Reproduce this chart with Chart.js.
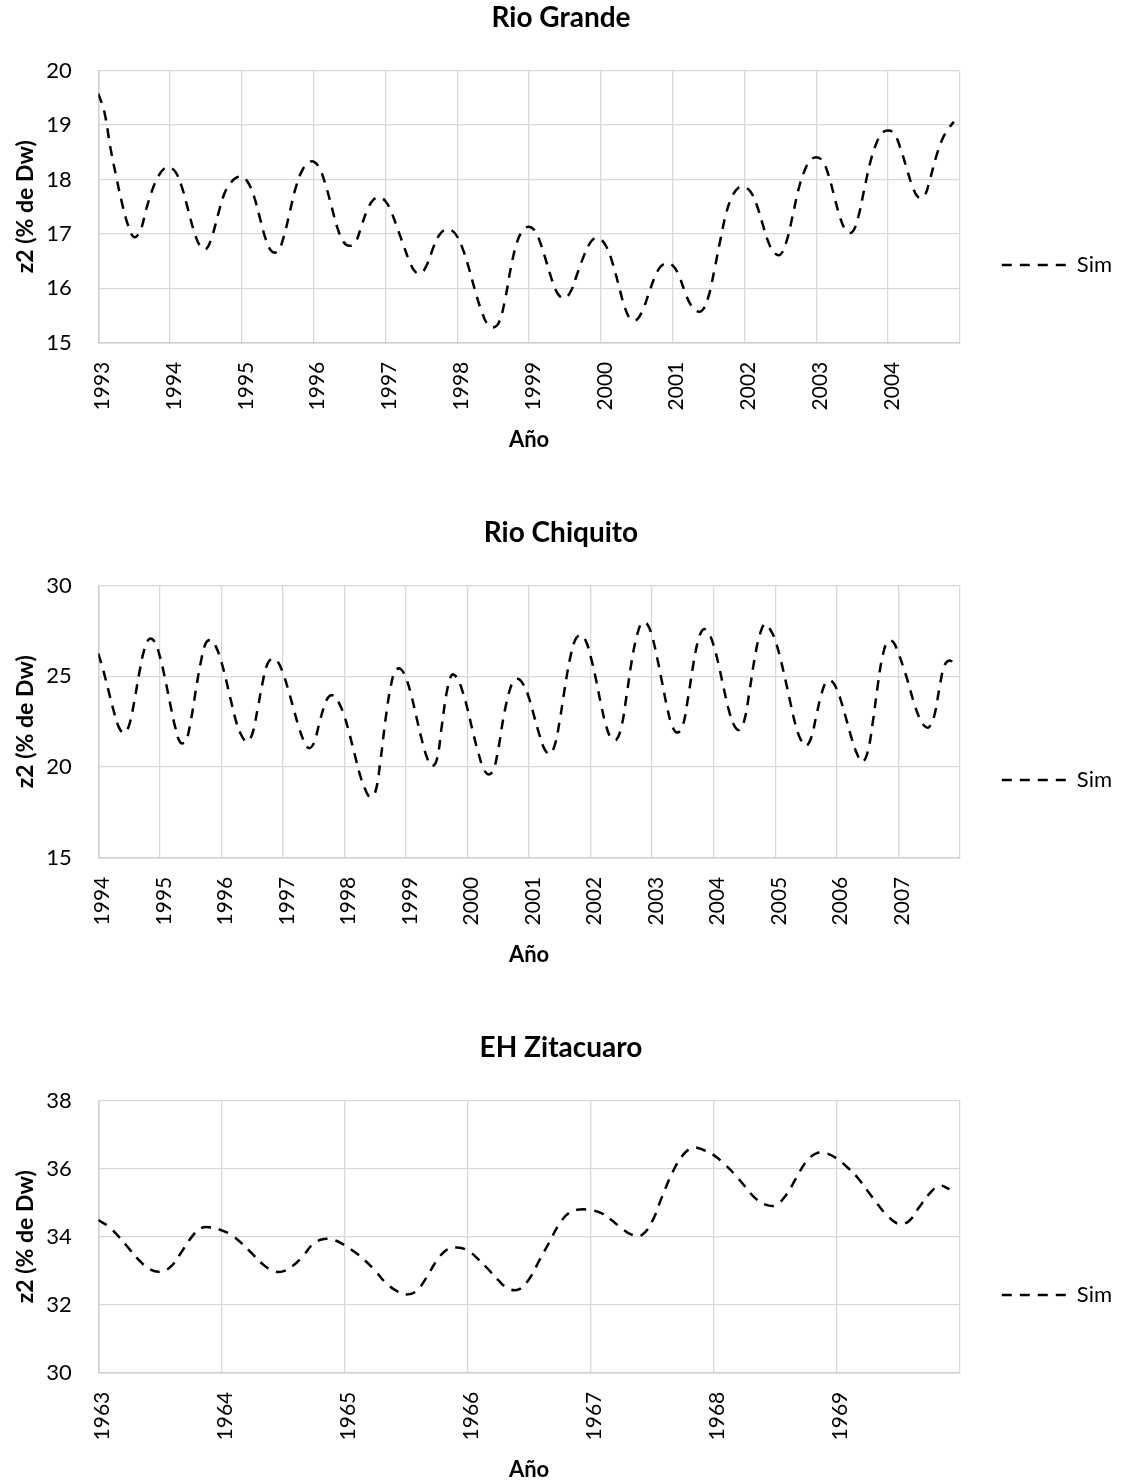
<!DOCTYPE html>
<html>
<head>
<meta charset="utf-8">
<title>z2 (% de Dw)</title>
<script src="https://cdn.jsdelivr.net/npm/chart.js@4.4.1/dist/chart.umd.min.js"></script>
<style>
	html, body { margin: 0; padding: 0; background: #fff; }
	#page { position: relative; width: 1122px; height: 1483px; overflow: hidden; }
	#page canvas { position: absolute; left: 0; }
</style>
</head>
<body>
<div id="page">
	<canvas id="rioGrande" width="1122" height="530" style="top:0"></canvas>
	<canvas id="rioChiquito" width="1122" height="530" style="top:515px"></canvas>
	<canvas id="zitacuaro" width="1122" height="530" style="top:1030px"></canvas>
</div>
<script>
// monthly values, the first one is January of the first year
const rioGrandeYears = [1993, 1994, 1995, 1996, 1997, 1998, 1999, 2000, 2001, 2002, 2003, 2004];
const rioGrandeYTicks = [15, 16, 17, 18, 19, 20];
const rioGrandeSim = [
	19.58, 19.25, 18.6, 18.05, 17.55, 17.15, 16.94, 17.05, 17.45, 17.8, 18.05, 18.2,
	18.22, 18.12, 17.85, 17.45, 17.05, 16.78, 16.72, 16.95, 17.35, 17.72, 17.92, 18.03,
	18.05, 17.95, 17.7, 17.3, 16.9, 16.68, 16.68, 16.95, 17.4, 17.85, 18.15, 18.3,
	18.33, 18.2, 17.9, 17.5, 17.1, 16.85, 16.78, 16.85, 17.15, 17.45, 17.63, 17.67,
	17.6, 17.4, 17.1, 16.8, 16.5, 16.3, 16.28, 16.45, 16.75, 16.98, 17.08, 17.07,
	16.95, 16.7, 16.35, 15.95, 15.6, 15.35, 15.28, 15.38, 15.8, 16.4, 16.85, 17.07,
	17.13, 17.05, 16.8, 16.45, 16.1, 15.87, 15.82, 15.95, 16.25, 16.55, 16.8, 16.92,
	16.9, 16.75, 16.45, 16.05, 15.65, 15.43, 15.42, 15.6, 15.9, 16.2, 16.4, 16.46,
	16.42, 16.25, 15.95, 15.7, 15.58, 15.6, 15.85, 16.35, 16.9, 17.4, 17.7, 17.85,
	17.86, 17.78, 17.55, 17.2, 16.85, 16.65, 16.62, 16.85, 17.3, 17.8, 18.15, 18.35,
	18.41, 18.35, 18.1, 17.7, 17.3, 17.06, 17.03, 17.3, 17.8, 18.3, 18.65, 18.85,
	18.9, 18.85, 18.6, 18.25, 17.9, 17.68, 17.68, 18.0, 18.4, 18.72, 18.92, 19.06
];

const rioChiquitoYears = [1994, 1995, 1996, 1997, 1998, 1999, 2000, 2001, 2002, 2003, 2004, 2005, 2006, 2007];
const rioChiquitoYTicks = [15, 20, 25, 30];
const rioChiquitoSim = [
	26.26, 25.3, 24.2, 23.1, 22.2, 21.88, 22.3, 23.6, 25.2, 26.5, 27.08, 26.9,
	26.1, 24.9, 23.5, 22.2, 21.35, 21.4, 22.5, 24.2, 25.8, 26.85, 27.0, 26.6,
	25.8, 24.7, 23.5, 22.4, 21.7, 21.4, 21.8, 23.1, 24.6, 25.7, 25.98, 25.8,
	25.2, 24.3, 23.3, 22.3, 21.5, 21.05, 21.3, 22.3, 23.3, 23.9, 23.92, 23.5,
	22.8, 21.8, 20.7, 19.6, 18.8, 18.35, 18.6, 20.3, 22.6, 24.4, 25.35, 25.4,
	24.9, 24.0, 22.8, 21.6, 20.6, 20.05, 20.4, 22.3, 24.2, 25.1, 24.9, 24.2,
	23.2, 22.0, 20.9, 20.0, 19.6, 19.8, 21.0, 22.7, 24.0, 24.75, 24.85, 24.5,
	23.8, 22.8, 21.8, 21.0, 20.72, 21.2, 22.6, 24.4, 26.0, 27.0, 27.28, 27.0,
	26.1, 24.9, 23.5, 22.3, 21.6, 21.5, 22.2, 23.9, 25.8, 27.2, 27.95, 27.9,
	27.2, 26.0, 24.6, 23.2, 22.2, 21.9, 22.3, 23.8, 25.6, 27.0, 27.6, 27.4,
	26.7, 25.6, 24.3, 23.1, 22.3, 22.05, 22.6, 24.2, 26.0, 27.3, 27.88, 27.6,
	27.0, 26.0, 24.8, 23.5, 22.3, 21.5, 21.17, 21.6, 22.8, 24.0, 24.7, 24.75,
	24.3, 23.5, 22.5, 21.5, 20.7, 20.28, 20.8, 22.4, 24.5, 26.2, 26.95, 26.9,
	26.3, 25.5, 24.6, 23.6, 22.8, 22.3, 22.2, 22.8, 24.3, 25.6, 25.88, 25.7
];

const zitacuaroYears = [1963, 1964, 1965, 1966, 1967, 1968, 1969];
const zitacuaroYTicks = [30, 32, 34, 36, 38];
const zitacuaroSim = [
	34.49, 34.3, 34.0, 33.65, 33.3, 33.05, 32.97, 33.1, 33.5, 33.95, 34.25, 34.27,
	34.19, 34.05, 33.8, 33.5, 33.2, 33.0, 32.98, 33.15, 33.45, 33.8, 33.93, 33.9,
	33.75, 33.55, 33.3, 33.0, 32.65, 32.42, 32.3, 32.4, 32.8, 33.3, 33.62, 33.68,
	33.6, 33.35, 33.05, 32.72, 32.47, 32.45, 32.75, 33.3, 33.85, 34.4, 34.72, 34.8,
	34.78, 34.7, 34.5, 34.25, 34.06, 34.05, 34.45, 35.2, 35.9, 36.4, 36.62, 36.55,
	36.4, 36.15, 35.85, 35.5, 35.15, 34.95, 34.92, 35.2, 35.7, 36.2, 36.45, 36.45,
	36.3, 36.05, 35.75, 35.35, 34.95, 34.6, 34.38, 34.45, 34.85, 35.25, 35.5, 35.4
];

const GRID = "#d9d9d9";

function monthly(years, values) {
	return values.map((v, i) => ({ x: years[0] + i / 12, y: v }));
}

// the legend uses point options by default, put the dashed line back
function dashedLegend(chart) {
	return Chart.defaults.plugins.legend.labels.generateLabels(chart).map(item => {
		const ds = chart.data.datasets[item.datasetIndex];
		item.lineDash = ds.borderDash;
		item.lineWidth = ds.borderWidth;
		item.strokeStyle = ds.borderColor;
		return item;
	});
}

function makeChart(id, title, years, values, yTicks) {
	const endYear = years[years.length - 1] + 1;

	return new Chart(document.getElementById(id), {
		type: "line",
		data: {
			datasets: [{
				label: "Sim",
				data: monthly(years, values),
				borderColor: "#000",
				borderWidth: 2.5,
				borderDash: [10, 8],
				tension: 0.4,
				pointRadius: 0,
				pointStyle: "line",
				fill: false
			}]
		},
		options: {
			responsive: false,
			animation: false,
			layout: { padding: 0 },
			plugins: {
				title: {
					display: true,
					text: title,
					color: "#000",
					font: { size: 28, weight: "bold" },
					padding: { top: 1.2, bottom: 35.9 }
				},
				legend: {
					position: "right",
					labels: {
						usePointStyle: true,
						pointStyleWidth: 64,
						padding: 42,
						color: "#000",
						font: { size: 22 },
						generateLabels: dashedLegend
					}
				},
				tooltip: { enabled: false }
			},
			scales: {
				x: {
					type: "linear",
					min: years[0],
					max: endYear,
					afterFit: (scale) => { scale.height = 187.3; },
					grid: { color: GRID, lineWidth: 1.3, drawTicks: false },
					border: { color: "#cfcfcf", width: 1.5 },
					ticks: {
						stepSize: 1,
						autoSkip: false,
						minRotation: 90,
						maxRotation: 90,
						padding: 19,
						labelOffset: 4,
						color: "#000",
						font: { size: 21 },
						callback: (v) => years.includes(v) ? String(v) : ""
					},
					title: {
						display: true,
						text: "Año",
						color: "#000",
						font: { size: 22, weight: "bold" },
						padding: { top: 16, bottom: 77 }
					}
				},
				y: {
					min: yTicks[0],
					max: yTicks[yTicks.length - 1],
					afterFit: (scale) => { scale.width = 98.3; },
					grid: { color: GRID, lineWidth: 1.3, drawTicks: false },
					border: { color: "#cfcfcf", width: 1.5 },
					ticks: {
						stepSize: yTicks[1] - yTicks[0],
						padding: 26.6,
						color: "#000",
						font: { size: 22 }
					},
					title: {
						display: true,
						text: "z2 (% de Dw)",
						color: "#000",
						font: { size: 23, weight: "bold" },
						padding: { top: 12.2, bottom: 8 }
					}
				}
			}
		}
	});
}

function draw() {
	Chart.defaults.font.family = "Lato, 'Open Sans', sans-serif";
	makeChart("rioGrande", "Rio Grande", rioGrandeYears, rioGrandeSim, rioGrandeYTicks);
	makeChart("rioChiquito", "Rio Chiquito", rioChiquitoYears, rioChiquitoSim, rioChiquitoYTicks);
	makeChart("zitacuaro", "EH Zitacuaro", zitacuaroYears, zitacuaroSim, zitacuaroYTicks);
}

Promise.all([
	document.fonts.load("21px Lato"),
	document.fonts.load("bold 21px Lato")
]).then(draw, draw);
</script>
</body>
</html>
